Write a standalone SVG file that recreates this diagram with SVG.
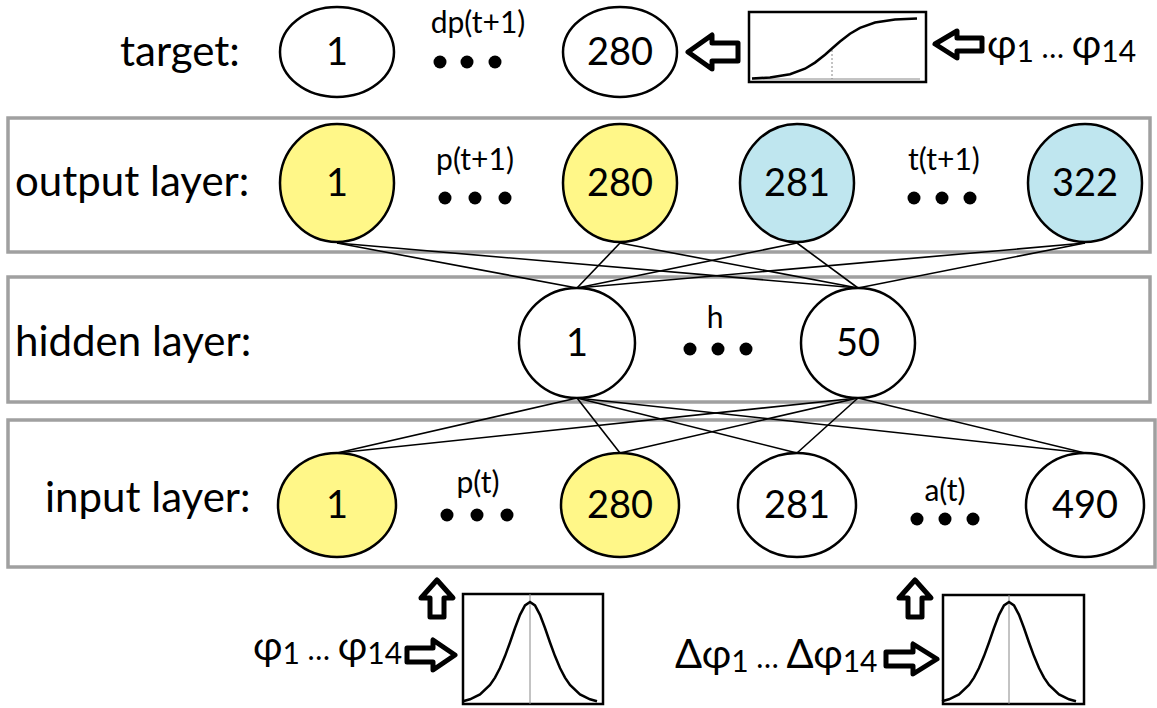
<svg xmlns="http://www.w3.org/2000/svg" width="1157" height="708" viewBox="0 0 1157 708">
<style>
.layer{fill:#fff;stroke:#a0a0a0;stroke-width:3.5}
.node{stroke:#000;stroke-width:2.5}
.w{fill:#fff}.y{fill:#fff788}.b{fill:#bfe6ef}
.num{font-family:Lato,"Open Sans",sans-serif;font-size:38px;fill:#000;text-anchor:middle}
.lbl{font-family:Lato,"Open Sans",sans-serif;font-size:42px;fill:#000}
.sm{font-family:Lato,"Open Sans",sans-serif;font-size:30px;fill:#000;text-anchor:middle}
.phi{font-family:Lato,"Open Sans",sans-serif;font-size:40px;fill:#000}
.sub{font-size:30px}
.conn line{stroke:#000;stroke-width:1.6}
.arrow{fill:#fff;stroke:#000;stroke-width:5;stroke-linejoin:round}
.plot{fill:#fff;stroke:#000;stroke-width:2.5}
.curve{fill:none;stroke:#000;stroke-width:2.5}
.guide{stroke:#888;stroke-width:1}
</style>
<defs>
<path id="gauss" d="M-67,-2.8 L-60,-4.7 L-50,-9.6 L-40,-19.1 L-35,-26.4 L-30,-36 L-25,-47.9 L-20,-61.5 L-15,-76 L-10,-89.2 L-5,-98.6 L0,-102 L5,-98.6 L10,-89.2 L15,-76 L20,-61.5 L25,-47.9 L30,-36 L35,-26.4 L40,-19.1 L50,-9.6 L60,-4.7 L67,-2.8"/>
</defs>

<!-- layer boxes -->
<rect class="layer" x="8" y="118" width="1142" height="134"/>
<rect class="layer" x="8" y="277" width="1142" height="125"/>
<rect class="layer" x="8" y="420" width="1147" height="147"/>

<!-- connectors -->
<g id="connectors" class="conn">
<line x1="337" y1="243" x2="577" y2="288"/>
<line x1="337" y1="243" x2="858" y2="288"/>
<line x1="620" y1="243" x2="577" y2="288"/>
<line x1="620" y1="243" x2="858" y2="288"/>
<line x1="797" y1="243" x2="577" y2="288"/>
<line x1="797" y1="243" x2="858" y2="288"/>
<line x1="1085" y1="243" x2="577" y2="288"/>
<line x1="1085" y1="243" x2="858" y2="288"/>
<line x1="337" y1="453" x2="577" y2="398"/>
<line x1="337" y1="453" x2="858" y2="398"/>
<line x1="620" y1="453" x2="577" y2="398"/>
<line x1="620" y1="453" x2="858" y2="398"/>
<line x1="797" y1="453" x2="577" y2="398"/>
<line x1="797" y1="453" x2="858" y2="398"/>
<line x1="1085" y1="453" x2="577" y2="398"/>
<line x1="1085" y1="453" x2="858" y2="398"/>
</g>

<!-- labels -->
<text class="lbl" x="120" y="66">target:</text>
<text class="lbl" x="15" y="196">output layer:</text>
<text class="lbl" x="15" y="356">hidden layer:</text>
<text class="lbl" x="45" y="512">input layer:</text>

<!-- target row -->
<g id="t1"><ellipse class="node w" cx="337" cy="52" rx="57" ry="45"/><text class="num" x="337" y="65">1</text></g>
<g id="t280"><ellipse class="node w" cx="620" cy="52" rx="57" ry="45"/><text class="num" x="620" y="65">280</text></g>
<g id="tdots"><text class="sm" x="478" y="33">dp(t+1)</text><circle cx="440" cy="62" r="6.5"/><circle cx="467" cy="62" r="6.5"/><circle cx="495" cy="62" r="6.5"/></g>

<!-- output layer -->
<g id="o1"><ellipse class="node y" cx="337" cy="183" rx="57" ry="59"/><text class="num" x="337" y="196">1</text></g>
<g id="o280"><ellipse class="node y" cx="620" cy="183" rx="57" ry="59"/><text class="num" x="620" y="196">280</text></g>
<g id="o281"><ellipse class="node b" cx="797" cy="183" rx="57" ry="59"/><text class="num" x="797" y="196">281</text></g>
<g id="o322"><ellipse class="node b" cx="1085" cy="183" rx="57" ry="59"/><text class="num" x="1085" y="196">322</text></g>
<g id="odots1"><text class="sm" x="475" y="170">p(t+1)</text><circle cx="445" cy="198" r="6.5"/><circle cx="475" cy="198" r="6.5"/><circle cx="505" cy="198" r="6.5"/></g>
<g id="odots2"><text class="sm" x="944" y="170">t(t+1)</text><circle cx="914" cy="198" r="6.5"/><circle cx="942" cy="198" r="6.5"/><circle cx="970" cy="198" r="6.5"/></g>

<!-- hidden layer -->
<g id="h1"><ellipse class="node w" cx="577" cy="343" rx="58" ry="55"/><text class="num" x="577" y="356">1</text></g>
<g id="h50"><ellipse class="node w" cx="858" cy="343" rx="57" ry="55"/><text class="num" x="858" y="356">50</text></g>
<g id="hdots"><text class="sm" x="715" y="328">h</text><circle cx="690" cy="349" r="6.5"/><circle cx="718" cy="349" r="6.5"/><circle cx="746" cy="349" r="6.5"/></g>

<!-- input layer -->
<g id="i1"><ellipse class="node y" cx="337" cy="505" rx="59" ry="52"/><text class="num" x="337" y="518">1</text></g>
<g id="i280"><ellipse class="node y" cx="620" cy="505" rx="59" ry="52"/><text class="num" x="620" y="518">280</text></g>
<g id="i281"><ellipse class="node w" cx="797" cy="505" rx="59" ry="52"/><text class="num" x="797" y="518">281</text></g>
<g id="i490"><ellipse class="node w" cx="1085" cy="505" rx="59" ry="52"/><text class="num" x="1085" y="518">490</text></g>
<g id="idots1"><text class="sm" x="478" y="493">p(t)</text><circle cx="447" cy="515" r="6.5"/><circle cx="477" cy="515" r="6.5"/><circle cx="507" cy="515" r="6.5"/></g>
<g id="idots2"><text class="sm" x="945" y="501">a(t)</text><circle cx="917" cy="519" r="6.5"/><circle cx="945" cy="519" r="6.5"/><circle cx="973" cy="519" r="6.5"/></g>

<!-- target sigmoid -->
<g id="sigmoid">
<rect class="plot" x="749" y="12" width="177" height="70"/>
<line class="guide" x1="752" y1="79" x2="920" y2="79"/>
<line class="guide" x1="832" y1="50" x2="832" y2="79" stroke-dasharray="2,2"/>
<path class="curve" d="M752,78.5 L770,77.5 L790,74.2 L805,68.7 L815,62.6 L825,54.7 L832,48.5 L840,41.5 L850,33.7 L860,27.8 L875,22.5 L895,19.5 L917,18.4"/>
</g>
<path class="arrow" d="M688,52 L712,35 L712,43 L738,43 L738,61 L712,61 L712,69 Z"/>
<path class="arrow" d="M935,44 L957,31 L957,38 L982,38 L982,51 L957,51 L957,58 Z"/>
<text class="phi" x="987" y="58">φ<tspan class="sub" dy="4">1</tspan><tspan dy="-4" font-size="30"> … </tspan>φ<tspan class="sub" dy="4">14</tspan></text>

<!-- bottom gaussian 1 -->
<g id="gauss1">
<rect class="plot" x="463" y="594" width="140" height="110"/>
<line class="guide" x1="530" y1="594" x2="530" y2="704"/>
<use href="#gauss" class="curve" transform="translate(530,704)"/>
</g>
<path class="arrow" d="M437,580 L453,598 L444,598 L444,617 L430,617 L430,598 L421,598 Z"/>
<path class="arrow" d="M455,655 L433,640 L433,648 L407,648 L407,662 L433,662 L433,670 Z"/>
<text class="phi" x="253" y="660">φ<tspan class="sub" dy="4">1</tspan><tspan dy="-4" font-size="30"> … </tspan>φ<tspan class="sub" dy="4">14</tspan></text>

<!-- bottom gaussian 2 -->
<g id="gauss2">
<rect class="plot" x="943" y="595" width="141" height="109"/>
<line class="guide" x1="1009" y1="595" x2="1009" y2="704"/>
<use href="#gauss" class="curve" transform="translate(1009,704)"/>
</g>
<path class="arrow" d="M915,580 L931,598 L922,598 L922,617 L908,617 L908,598 L899,598 Z"/>
<path class="arrow" d="M937,659 L913,644 L913,652 L886,652 L886,666 L913,666 L913,674 Z"/>
<text class="phi" x="675" y="668">Δφ<tspan class="sub" dy="4">1</tspan><tspan dy="-4" font-size="30"> … </tspan>Δφ<tspan class="sub" dy="4">14</tspan></text>
</svg>
